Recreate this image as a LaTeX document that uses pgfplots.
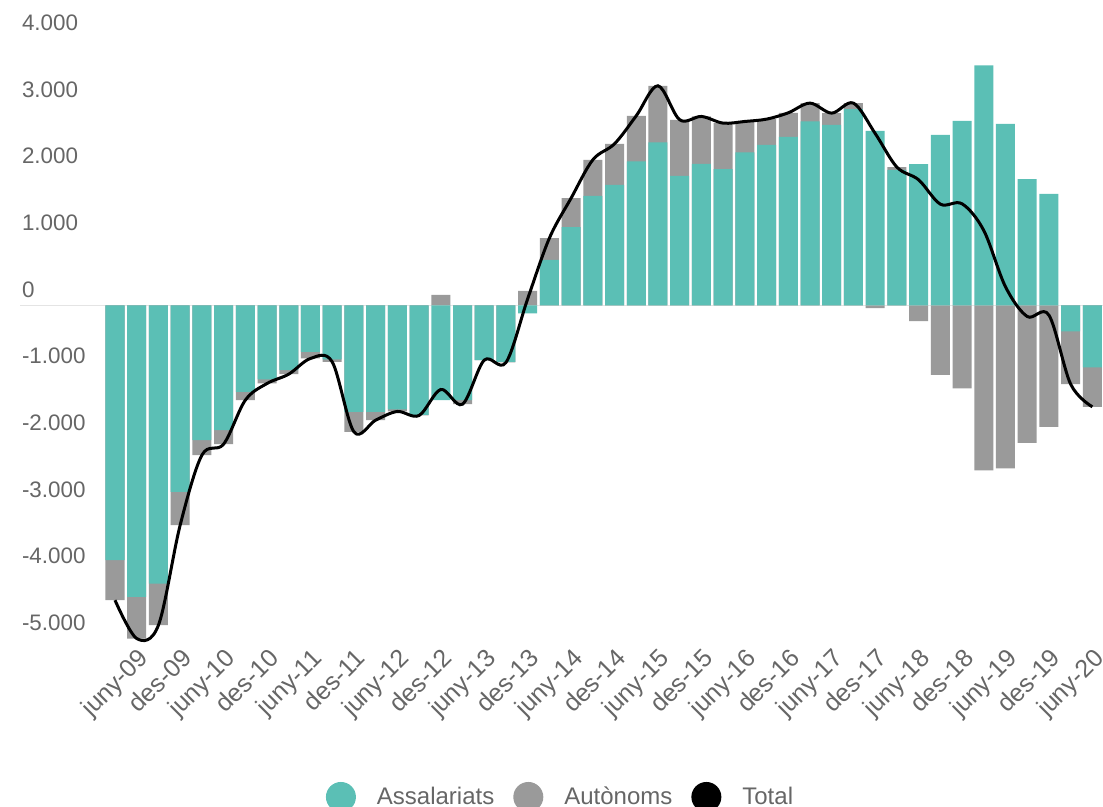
\documentclass[border=0pt]{standalone}
\usepackage{fontspec}
\setmainfont{Liberation Sans}
\usepackage{pgfplots}
\pgfplotsset{compat=1.18}
\usepackage{pgfplotstable}
\definecolor{tealc}{HTML}{5BBFB5}
\definecolor{grayc}{HTML}{9A9A9A}
\definecolor{txt}{HTML}{666666}
\definecolor{zline}{HTML}{E4E4E4}

% x: quarter index (0 = mar-09 ... 45 = juny-20)
% ass = Assalariats, aut = Autonoms, tot = Total, gext = visible end of the grey segment
\pgfplotstableread{
x ass aut tot gext
0 -3820 -600 -4420 -4420
1 -4370 -625 -4995 -4995
2 -4170 -625 -4795 -4795
3 -2795 -500 -3295 -3295
4 -2020 -225 -2245 -2245
5 -1870 -210 -2080 -2080
6 -1295 -125 -1420 -1420
7 -1110 -60 -1170 -1170
8 -970 -60 -1030 -1030
9 -695 -100 -795 -795
10 -810 -35 -845 -845
11 -1595 -300 -1895 -1895
12 -1595 -125 -1720 -1720
13 -1560 -30 -1590 -1590
14 -1640 -10 -1650 -1650
15 -1420 160 -1260 160
16 -1420 -60 -1480 -1480
17 -820 0 -820 -820
18 -845 -10 -855 -855
19 -120 220 100 220
20 685 325 1010 1010
21 1175 435 1610 1610
22 1645 540 2185 2185
23 1810 615 2425 2425
24 2160 685 2845 2845
25 2445 850 3295 3295
26 1945 840 2785 2785
27 2125 710 2835 2835
28 2045 690 2735 2735
29 2295 465 2760 2760
30 2410 385 2795 2795
31 2530 360 2890 2890
32 2760 275 3035 3035
33 2710 175 2885 2885
34 2945 90 3035 3035
35 2620 -40 2580 -40
36 2035 40 2075 2075
37 2120 -235 1885 -235
38 2560 -1040 1520 -1040
39 2770 -1245 1525 -1245
40 3600 -2475 1125 -2475
41 2725 -2445 280 -2445
42 1895 -2060 -165 -2060
43 1675 -1820 -145 -1820
44 -390 -790 -1180 -1180
45 -930 -590 -1520 -1520
}\data

\begin{document}
\begin{tikzpicture}
\begin{axis}[
  scale only axis,
  width=541.5pt, height=306.7pt,
  xmin=-4.374, xmax=45.49,
  ymin=-5200, ymax=4000,
  axis line style={draw=none},
  major tick length=0pt,
  clip=false,
  ytick={-5000,-4000,-3000,-2000,-1000,0,1000,2000,3000,4000},
  yticklabels={-5.000,-4.000,-3.000,-2.000,-1.000,0,1.000,2.000,3.000,4.000},
  yticklabel style={anchor=south west, inner sep=0pt, yshift=3.8pt, xshift=0.8pt,
    font=\fontsize{11.2}{13}\selectfont, text=txt},
  ymajorgrids=false,
  extra y ticks={0},
  extra y tick labels={},
  extra y tick style={ymajorgrids=true, major grid style={zline, line width=0.9pt}},
  xtick={1,3,...,45},
  xticklabels={juny-09,des-09,juny-10,des-10,juny-11,des-11,juny-12,des-12,juny-13,des-13,juny-14,des-14,juny-15,des-15,juny-16,des-16,juny-17,des-17,juny-18,des-18,juny-19,des-19,juny-20},
  xticklabel style={rotate=45, anchor=north east, inner sep=1pt, xshift=3pt, yshift=3pt,
    font=\fontsize{12.5}{14}\selectfont, text=txt},
  legend image code/.code={\fill[#1] (7.5pt,0pt) circle (7.5pt);},
  legend style={at={(0.5,0)}, anchor=center, yshift=-72.4pt, draw=none, fill=none,
    legend columns=3, font=\fontsize{12}{14}\selectfont, text=txt,
    /tikz/every odd column/.append style={column sep=8.5pt},
    /tikz/every even column/.append style={column sep=7.5pt}},
]
\addplot[ybar, bar width=0.875, bar shift=0pt, fill=grayc, draw=none, forget plot]
  table[x=x, y=gext]{\data};
\addplot[ybar, bar width=0.875, bar shift=0pt, fill=tealc, draw=none, forget plot]
  table[x=x, y=ass]{\data};
\addplot[black, line width=1.5pt, smooth, tension=0.55, forget plot]
  table[x=x, y=tot]{\data};
\addlegendimage{fill=tealc, draw=none}
\addlegendentry{Assalariats}
\addlegendimage{fill=grayc, draw=none}
\addlegendentry{Autònoms}
\addlegendimage{fill=black, draw=none}
\addlegendentry{Total}
\end{axis}
\pgfresetboundingbox
\path[use as bounding box] ([xshift=-10pt, yshift=-77.4pt]current axis.south west) rectangle ([yshift=19.4pt]current axis.north east);
\end{tikzpicture}
\end{document}
